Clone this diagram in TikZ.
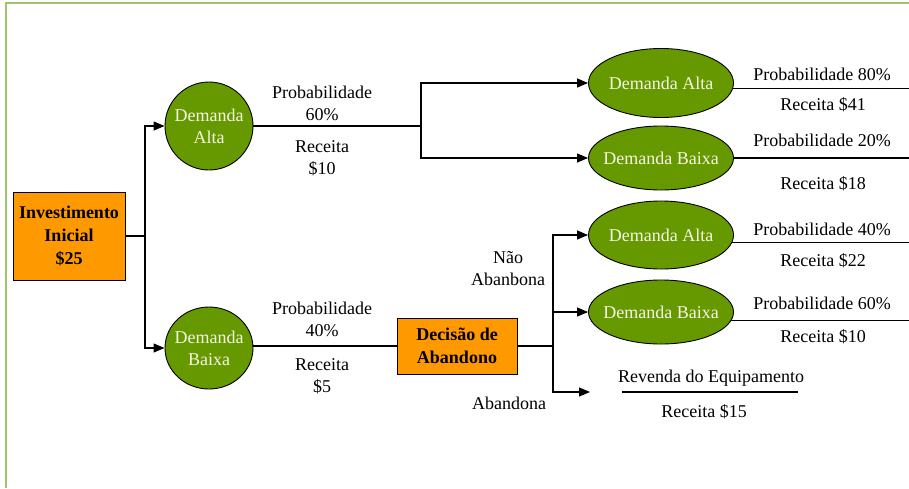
\documentclass[tikz,border=0pt]{standalone}
\usepackage{fontspec}
\setmainfont{Liberation Serif}
\usetikzlibrary{shapes.geometric,arrows.meta}
\definecolor{framegreen}{RGB}{160,196,106}
\definecolor{decorange}{RGB}{255,153,0}
\definecolor{chancegreen}{RGB}{102,153,0}
\definecolor{chancetext}{RGB}{245,245,230}
\tikzset{
  conn/.style={draw=black, line width=1.1pt},
  arr/.style={conn, -{Triangle[length=11pt,width=9pt]}},
  decbox/.style={draw=black, line width=0.9pt, fill=decorange, font=\bfseries\fontsize{18}{23}\selectfont, align=center, inner sep=0pt},
  chance/.style={ellipse, draw=black, line width=0.9pt, fill=chancegreen, inner sep=0pt},
  ctext/.style={text=chancetext, align=center, inner sep=0pt, font=\fontsize{18}{22}\selectfont},
  lbl/.style={align=center, inner sep=0pt, font=\fontsize{18}{22}\selectfont},
}
\begin{document}
\begin{tikzpicture}[x=1pt,y=-1pt]
\useasboundingbox (0,0) rectangle (909,488);
% frame
\draw[draw=framegreen, line width=2pt] (909,3) -- (6,3) -- (6,488);

% decision and chance nodes
\node[decbox, minimum width=112, minimum height=88] (inv) at (69,236) {Investimento\\Inicial\\\$25};
\node[chance, minimum width=88, minimum height=88, label={[ctext]center:Demanda\\Alta}] (da) at (209,126) {};
\node[chance, minimum width=88, minimum height=82, label={[ctext]center:Demanda\\Baixa}] (db) at (209,348) {};
\node[decbox, minimum width=120, minimum height=56] (dec) at (457,346) {Decisão de\\Abandono};

\node[chance, minimum width=145, minimum height=69, label={[ctext]center:Demanda Alta}] (ea1) at (661,83) {};
\node[chance, minimum width=145, minimum height=64, label={[ctext]center:Demanda Baixa}] (eb1) at (661,158) {};
\node[chance, minimum width=145, minimum height=68, label={[ctext]center:Demanda Alta}] (ea2) at (661,235) {};
\node[chance, minimum width=145, minimum height=64, label={[ctext]center:Demanda Baixa}] (eb2) at (661,312) {};

% junctions and free ends
\coordinate (j1) at (145,236);
\coordinate (j2) at (421,126);
\coordinate (j3) at (553,346);
\coordinate (rend) at (909,0);
\coordinate (resale) at (590,392);

% branches from the initial investment
\draw[conn] (inv.east) -- (j1);
\draw[arr] (j1) |- (da.west);
\draw[arr] (j1) |- (db.west);

% high demand branch
\draw[conn] (da.east) -- (j2);
\draw[arr] (j2) |- (ea1.west);
\draw[arr] (j2) |- (eb1.west);

% low demand branch and abandonment decision
\draw[conn] (dec.west -| db.east) -- (dec.west);
\draw[conn] (dec.east) -- (j3);
\draw[conn] (j3 |- ea2.west) -- (j3 |- resale);
\draw[arr] (j3) |- (ea2.west);
\draw[arr] (j3) |- (eb2.west);
\draw[arr] (j3) |- (resale);

% outcome lines
\draw[conn] (ea1.-4.8) -- (ea1.-4.8 -| rend);
\draw[conn] (eb1.east) -- (eb1.east -| rend);
\draw[conn] (ea2.-6.5) -- (ea2.-6.5 -| rend);
\draw[conn] (eb2.-7.4) -- (eb2.-7.4 -| rend);

% branch labels
\node[lbl] (p60) at (322,103) {Probabilidade\\60\%};
\node[lbl] (r10) at (322,158) {Receita\\\$10};
\node[lbl] (p40) at (322,319) {Probabilidade\\40\%};
\node[lbl] (r5) at (322,376) {Receita\\\$5};
\node[lbl] (nab) at (508,269) {Não\\Abanbona};
\node[lbl] (ab) at (509,403) {Abandona};

% outcome labels
\node[lbl] (o1p) at (822,74) {Probabilidade 80\%};
\node[lbl] (o1r) at (823,105) {Receita \$41};
\node[lbl] (o2p) at (822,140) {Probabilidade 20\%};
\node[lbl] (o2r) at (823,184) {Receita \$18};
\node[lbl] (o3p) at (822,229) {Probabilidade 40\%};
\node[lbl] (o3r) at (823,261) {Receita \$22};
\node[lbl] (o4p) at (822,303) {Probabilidade 60\%};
\node[lbl] (o4r) at (823,337) {Receita \$10};

% resale outcome
\node[lbl] (rv) at (711,378) {Revenda do Equipamento};
\node[lbl] (rvr) at (704,412) {Receita \$15};
\coordinate (rvl) at (622,392);
\coordinate (rvr2) at (798,392);
\draw[conn] (rvl) -- (rvr2);
\end{tikzpicture}
\end{document}
